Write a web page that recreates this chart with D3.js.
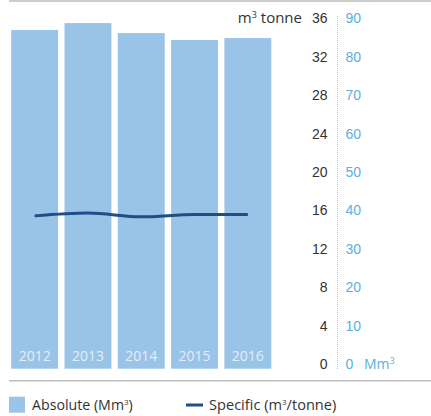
<!DOCTYPE html>
<html><head><meta charset="utf-8">
<script src="https://cdn.jsdelivr.net/npm/d3@7"></script>
<style>body{margin:0;background:#fff}svg{display:block;font-family:"Open Sans",Lato,sans-serif}</style>
</head><body><svg id="c" width="431" height="416"></svg>
<script>
const years = ["2012","2013","2014","2015","2016"];
const absolute = [88.1, 89.9, 87.3, 85.5, 86.0];
const specific = [15.9, 16.2, 15.8, 16.05, 16.05];
const leftTicks = [0,4,8,12,16,20,24,28,32,36];
const rightTicks = [0,10,20,30,40,50,60,70,80,90];

const svg = d3.select("#c");
const x = d3.scaleBand().domain(years).range([8, 274.5]).paddingInner(0.12).paddingOuter(0.06);
const yL = d3.scaleLinear().domain([0,36]).range([368.7, 22.7]);
const yR = d3.scaleLinear().domain([0,90]).range([368.7, 22.7]);

svg.append("line").attr("x1",9).attr("x2",431).attr("y1",1).attr("y2",1).attr("stroke","#bdbdbd").attr("stroke-width",1.5);
svg.append("line").attr("x1",9).attr("x2",431).attr("y1",380.7).attr("y2",380.7).attr("stroke","#bdbdbd").attr("stroke-width",1.5);

svg.selectAll("rect.bar").data(absolute).enter().append("rect").attr("class","bar")
  .attr("x",(d,i)=>x(years[i])).attr("width",x.bandwidth())
  .attr("y",d=>yR(d)).attr("height",d=>yR(0)-yR(d)).attr("fill","#9ac3e8");

svg.selectAll("text.yr").data(years).enter().append("text").attr("class","yr")
  .attr("x",d=>x(d)+x.bandwidth()/2).attr("y",361).attr("text-anchor","middle")
  .attr("font-size",14).attr("fill","#e3eef9").text(d=>d);

const line = d3.line().x((d,i)=>x(years[i])+x.bandwidth()/2).y(d=>yL(d)).curve(d3.curveMonotoneX);
svg.append("path").datum(specific).attr("d",line).attr("fill","none").attr("stroke","#1d4f85").attr("stroke-width",3);

const axL = svg.append("g").attr("transform","translate(337.5,0)");
axL.call(d3.axisLeft(yL).tickValues(leftTicks).tickSize(0).tickPadding(10));
axL.select(".domain").remove();
axL.selectAll("text").attr("font-size",14).attr("fill","#333").attr("dy",0).attr("font-family",null);

const axR = svg.append("g").attr("transform","translate(337.5,0)");
axR.call(d3.axisRight(yR).tickValues(rightTicks).tickSize(0).tickPadding(8));
axR.select(".domain").remove();
axR.selectAll("text").attr("font-size",14).attr("fill","#5aaee0").attr("dy",0).attr("font-family",null);

svg.append("line").attr("x1",337.5).attr("x2",337.5).attr("y1",16).attr("y2",369).attr("stroke","#bbb").attr("stroke-width",1).attr("stroke-dasharray","1,1");

svg.append("text").attr("x",302).attr("y",22.7).attr("text-anchor","end").attr("font-size",15).attr("fill","#333")
  .html('m<tspan font-size="9" dy="-5">3</tspan><tspan dy="5"> tonne</tspan>');
svg.append("text").attr("x",364).attr("y",368.7).attr("font-size",14).attr("fill","#5aaee0")
  .html('Mm<tspan font-size="9" dy="-5">3</tspan>');

svg.append("rect").attr("x",9).attr("y",396.7).attr("width",16).attr("height",16).attr("fill","#9ac3e8");
svg.append("text").attr("x",32).attr("y",409.5).attr("font-size",14.2).attr("fill","#333")
  .html('Absolute (Mm<tspan font-size="8" dy="-5">3</tspan><tspan dy="5">)</tspan>');
svg.append("line").attr("x1",186).attr("x2",203).attr("y1",405).attr("y2",405).attr("stroke","#1d4f85").attr("stroke-width",3);
svg.append("text").attr("x",209).attr("y",409.5).attr("font-size",14.6).attr("fill","#333")
  .html('Specific (m<tspan font-size="8" dy="-5">3</tspan><tspan dy="5">/tonne)</tspan>');
</script></body></html>
